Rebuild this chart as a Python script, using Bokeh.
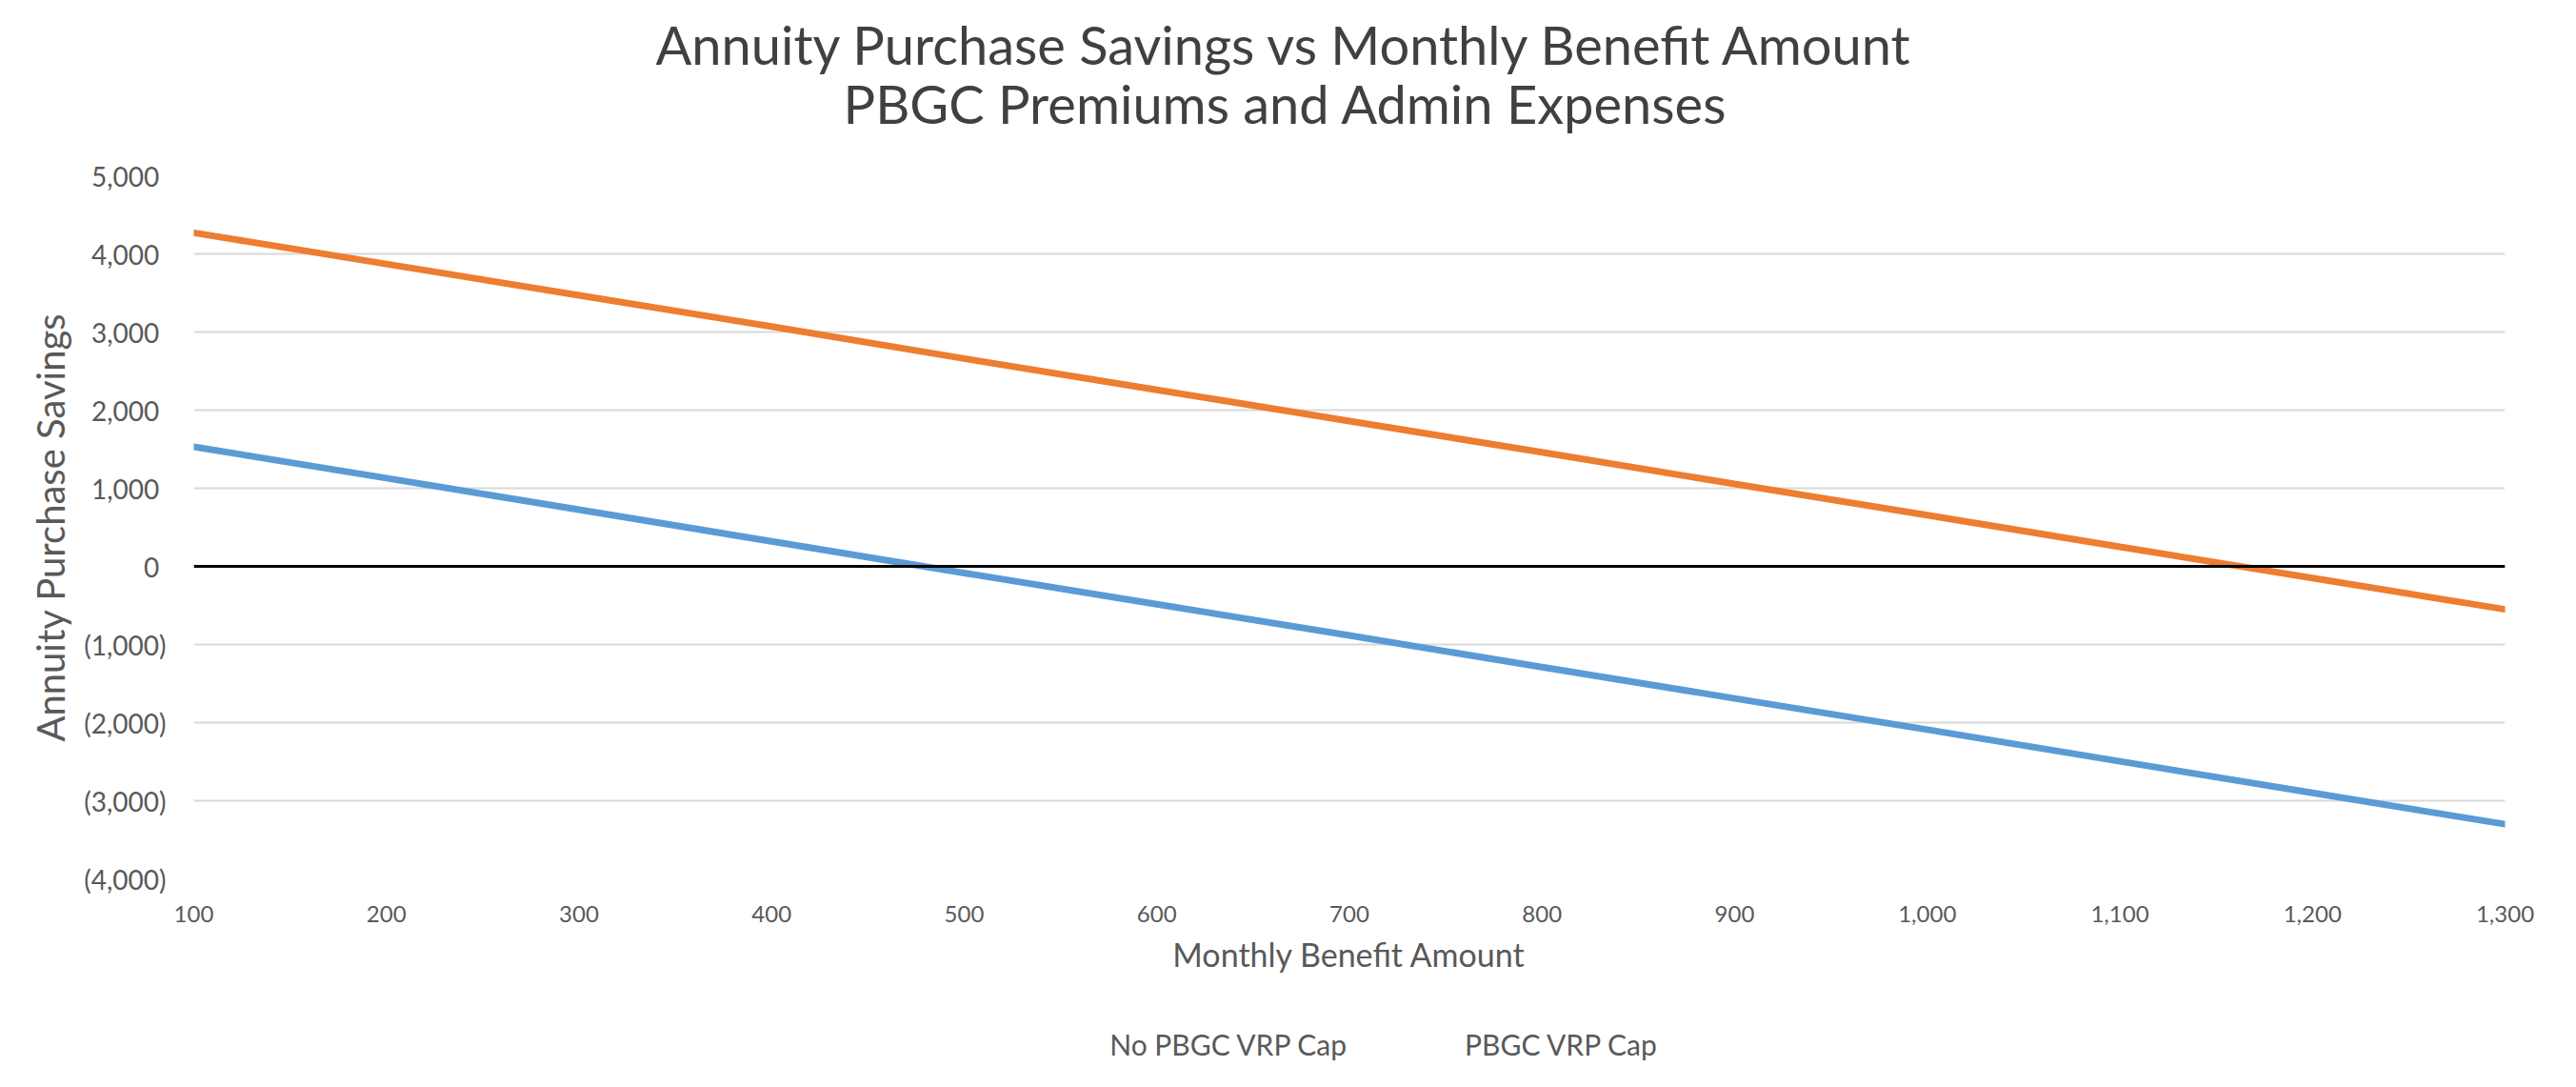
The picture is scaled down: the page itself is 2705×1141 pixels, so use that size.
from bokeh.plotting import figure
from bokeh.layouts import column
from bokeh.models import FixedTicker, NumeralTickFormatter, Span, Legend, LegendItem, Title
from bokeh.embed import file_html
from bokeh.resources import INLINE

# ---- data ----
benefit = [100, 200, 300, 400, 500, 600, 700, 800, 900, 1000, 1100, 1200, 1300]
no_cap = [1530, 1130, 725, 320, -85, -485, -885, -1290, -1690, -2090, -2495, -2900, -3300]
with_cap = [4270, 3870, 3470, 3070, 2660, 2260, 1860, 1460, 1055, 655, 250, -150, -550]
series_names = ["No PBGC VRP Cap", "PBGC VRP Cap"]
series_colors = ["#5B9BD5", "#ED7D31"]
y_ticks = [-4000, -3000, -2000, -1000, 0, 1000, 2000, 3000, 4000, 5000]
y_tick_labels = ["(4,000)", "(3,000)", "(2,000)", "(1,000)", "0\u00a0", "1,000\u00a0",
                 "2,000\u00a0", "3,000\u00a0", "4,000\u00a0", "5,000\u00a0"]
title_lines = ["Annuity Purchase Savings vs Monthly Benefit Amount",
               "PBGC Premiums and Admin Expenses"]
x_title = "Monthly Benefit Amount"
y_title = "Annuity Purchase Savings"

FONT = "Lato"
TXT = "#595959"

W = 2689
H_MAIN = 1040
H_LEG = 1125 - H_MAIN
BL, BR, BT = 203, 59, 184
BB = H_MAIN - BT - 738

p = figure(width=W, height=H_MAIN, x_range=(100, 1300), y_range=(-4000, 5000),
           output_backend="svg", toolbar_location=None,
           min_border_left=BL, min_border_right=BR, min_border_top=BT, min_border_bottom=BB)
p.title.visible = False
p.outline_line_color = None
p.background_fill_color = "white"
p.border_fill_color = "white"

# ---- title: spacer, then line 2, then line 1 (stacked outward from the frame) ----
spacer = Title(text="\u00a0", text_font_size="1px", standoff=47)
t2 = Title(text=title_lines[1], align="left", offset=682, standoff=-14,
           text_font=FONT, text_font_size="56px", text_font_style="normal", text_color="#404040")
t1 = Title(text=title_lines[0], align="left", offset=485, standoff=0,
           text_font=FONT, text_font_size="56px", text_font_style="normal", text_color="#404040")
p.add_layout(spacer, "above")
p.add_layout(t2, "above")
p.add_layout(t1, "above")

# grid
p.xgrid.grid_line_color = None
p.ygrid.grid_line_color = "#D9D9D9"
p.ygrid.grid_line_width = 2
p.ygrid.ticker = FixedTicker(ticks=y_ticks)

# axes
p.xaxis.ticker = FixedTicker(ticks=benefit)
p.xaxis.formatter = NumeralTickFormatter(format="0,0")
p.yaxis.ticker = FixedTicker(ticks=y_ticks)
p.yaxis.major_label_overrides = {v: s for v, s in zip(y_ticks, y_tick_labels)}
for ax in (p.xaxis[0], p.yaxis[0]):
    ax.axis_line_color = None
    ax.major_tick_line_color = None
    ax.minor_tick_line_color = None
    ax.major_tick_out = 0
    ax.major_tick_in = 0
    ax.major_label_text_font = FONT
    ax.major_label_text_color = TXT
    ax.axis_label_text_font = FONT
    ax.axis_label_text_font_style = "normal"
    ax.axis_label_text_color = TXT
p.xaxis.major_label_text_font_size = "24px"
p.yaxis.major_label_text_font_size = "28px"
p.xaxis.major_label_standoff = 28
p.yaxis.major_label_standoff = 29
p.xaxis.axis_label = x_title
p.yaxis.axis_label = y_title
p.xaxis.axis_label_text_font_size = "34px"
p.yaxis.axis_label_text_font_size = "40px"
p.xaxis.axis_label_standoff = 10
p.yaxis.axis_label_standoff = 8

# zero line
p.add_layout(Span(location=0, dimension="width", line_color="black", line_width=3))

# series
for vals, col in zip((no_cap, with_cap), series_colors):
    p.line(benefit, vals, line_color=col, line_width=7, line_cap="round")

# ---- legend strip below the chart ----
lf = figure(width=W, height=H_LEG, x_range=(0, 1), y_range=(0, 1),
            output_backend="svg", toolbar_location=None,
            x_axis_location=None, y_axis_location=None, min_border=0)
lf.title.visible = False
lf.outline_line_color = None
lf.xgrid.visible = False
lf.ygrid.visible = False
keys = [lf.line(x=[], y=[], line_color=col, line_width=7, line_cap="round")
        for col in series_colors]
legend = Legend(items=[LegendItem(label=name, renderers=[r]) for name, r in zip(series_names, keys)],
                orientation="horizontal", location="top_center",
                border_line_color=None, background_fill_alpha=0,
                label_text_font=FONT, label_text_font_size="30px", label_text_color=TXT,
                glyph_width=66, glyph_height=30, label_standoff=6, spacing=52,
                padding=0, margin=38)
lf.add_layout(legend, "center")

layout = column(p, lf, spacing=0)
open("out.html", "w").write(file_html(layout, INLINE))
